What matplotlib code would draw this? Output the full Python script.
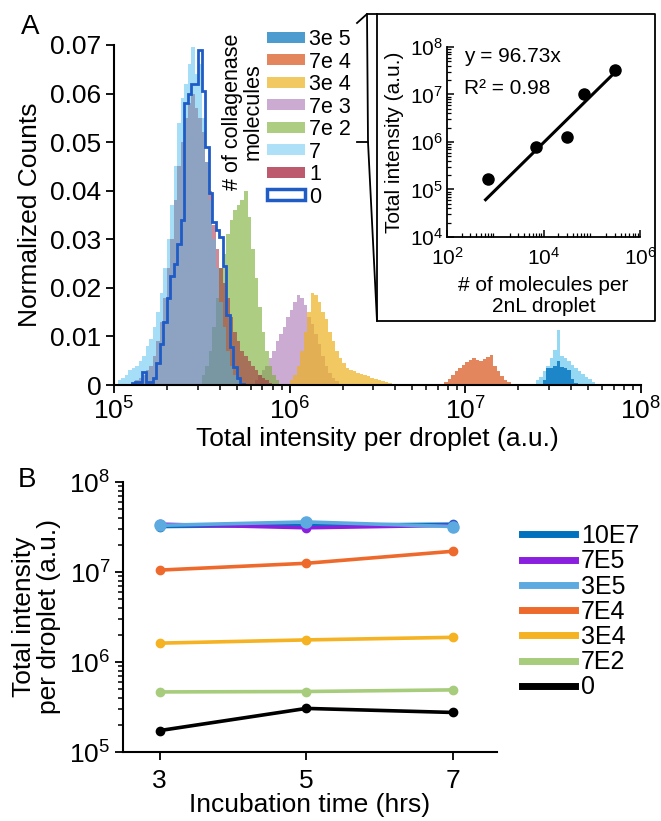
import numpy as np
import matplotlib
matplotlib.use("Agg")
import matplotlib.pyplot as plt
from matplotlib.patches import Patch
from matplotlib.lines import Line2D
from matplotlib.ticker import LogLocator, NullFormatter

plt.rcParams['font.family'] = ['Liberation Sans', 'DejaVu Sans']
plt.rcParams['mathtext.fontset'] = 'custom'
plt.rcParams['mathtext.rm'] = 'Liberation Sans'
plt.rcParams['mathtext.it'] = 'Liberation Sans:italic'
plt.rcParams['mathtext.bf'] = 'Liberation Sans:bold'

############################################################################
# Panel A data: normalized counts, bins 0.02 decades wide (log10 start)
############################################################################
bin_w = 0.02

h3e5_light_start = 7.40
h3e5_light = [0.001, 0.0017, 0.0028, 0.004, 0.0055, 0.0072, 0.0113, 0.006,
              0.0055, 0.005, 0.0042, 0.0035, 0.0028, 0.0022, 0.0017, 0.0012, 0.0007]
h3e5_start = 7.44
h3e5 = [0.001, 0.0034, 0.0036, 0.004, 0.005, 0.0038, 0.0034, 0.003, 0.0012, 0.0005]

h7e4_start = 6.86
h7e4 = [0.0003, 0.0007, 0.0012, 0.002, 0.0028, 0.0036, 0.0042, 0.0047, 0.0051,
        0.0055, 0.0052, 0.005, 0.0053, 0.0057, 0.0062, 0.004, 0.0028, 0.0018,
        0.0011, 0.0006, 0.0002]

h3e4_start = 6.00
h3e4 = [0.001, 0.002, 0.004, 0.007, 0.011, 0.015, 0.019, 0.0185, 0.017, 0.015,
        0.0135, 0.011, 0.009, 0.007, 0.0055, 0.0045, 0.0035, 0.003, 0.0028,
        0.0024, 0.0022, 0.002, 0.0018, 0.0015, 0.0012, 0.001, 0.0008, 0.0006,
        0.0004, 0.0002]

h7e3_start = 5.80
h7e3 = [0.001, 0.002, 0.003, 0.004, 0.0055, 0.007, 0.009, 0.0105, 0.012, 0.014,
        0.0155, 0.017, 0.0185, 0.018, 0.0165, 0.014, 0.0125, 0.0105, 0.0085,
        0.006, 0.004, 0.0025, 0.0015, 0.0008, 0.0003]

h7e2_start = 5.50
h7e2 = [0.002, 0.004, 0.007, 0.012, 0.018, 0.024, 0.027, 0.031, 0.034, 0.036,
        0.037, 0.038, 0.040, 0.0345, 0.028, 0.022, 0.016, 0.011, 0.007, 0.004,
        0.002, 0.001]

h7_start = 5.02
h7 = [0.001, 0.0015, 0.002, 0.003, 0.0035, 0.004, 0.005, 0.006, 0.008, 0.0095,
      0.012, 0.015, 0.019, 0.024, 0.030, 0.037, 0.045, 0.054, 0.059, 0.062,
      0.066, 0.0695, 0.064, 0.066, 0.055, 0.046, 0.038, 0.030, 0.024, 0.017,
      0.012, 0.007, 0.004, 0.002, 0.001]

h1_start = 5.10
h1 = [0.0005, 0.001, 0.0015, 0.002, 0.003, 0.004, 0.006, 0.009, 0.013, 0.018,
      0.024, 0.030, 0.038, 0.045, 0.050, 0.055, 0.058, 0.060, 0.057, 0.055,
      0.052, 0.046, 0.040, 0.033, 0.028, 0.024, 0.021, 0.018, 0.014, 0.011,
      0.009, 0.007, 0.006, 0.005, 0.004, 0.003, 0.002, 0.0015, 0.001, 0.0005]

h0_start = 5.10
h0 = [0.0005, 0.0007, 0.0007, 0.0027, 0.0007, 0.0007, 0.0015, 0.0045, 0.0085,
      0.013, 0.018, 0.0225, 0.025, 0.029, 0.034, 0.058, 0.060, 0.062, 0.062,
      0.069, 0.0605, 0.049, 0.0395, 0.0336, 0.032, 0.0305, 0.0244, 0.0144,
      0.0079, 0.0038, 0.0014, 0.0003, 0.0]

legend_a_labels = ['3e 5', '7e 4', '3e 4', '7e 3', '7e 2', '7', '1', '0']
legend_a_title = '# of collagenase\nmolecules'

# inset: calibration
mol_per_drop = [7e2, 7e3, 3e4, 7e4, 3e5]
total_int = [1.7e5, 8e5, 1.3e6, 1.0e7, 3.3e7]
fit_slope = 96.73
fit_r2 = 0.98
fit_x = [6.3e2, 3.6e5]

############################################################################
# Panel B data
############################################################################
hours = [3, 5, 7]
b_labels = ['10E7', '7E5', '3E5', '7E4', '3E4', '7E2', '0']
b_10e7 = [3.2e7, 3.3e7, 3.4e7]
b_7e5 = [3.4e7, 3.1e7, 3.3e7]
b_3e5 = [3.3e7, 3.6e7, 3.2e7]
b_7e4 = [1.05e7, 1.25e7, 1.7e7]
b_3e4 = [1.62e6, 1.76e6, 1.88e6]
b_7e2 = [4.65e5, 4.7e5, 4.9e5]
b_0 = [1.73e5, 3.05e5, 2.75e5]

W, H = 661, 821
fig = plt.figure(figsize=(W / 100, H / 100), dpi=100)


def fx(x):
    return x / W


def fy(y):
    return 1 - y / H


def edges(start, vals):
    return 10 ** (start + bin_w * np.arange(len(vals) + 1))


############################################################################
# Panel A
############################################################################
ax = fig.add_axes([fx(114), fy(385), fx(641) - fx(114), fy(45) - fy(385)])

c_3e5, c_7e4, c_3e4, c_7e3 = '#0072BD', '#D95319', '#EDB120', '#7E2F8E'
c_7e2, c_7, c_1, c_0 = '#77AC30', '#4DBEEE', '#A2142F', '#1F5CC6'
a_3e5, a_7e4, a_3e4, a_7e3, a_7e2, a_7, a_1 = 0.7, 0.7, 0.7, 0.4, 0.6, 0.45, 0.5

ax.stairs(h3e5_light, edges(h3e5_light_start, h3e5_light), fill=True, color=c_7, alpha=0.6, lw=0)
ax.stairs(h3e5, edges(h3e5_start, h3e5), fill=True, color=c_3e5, alpha=0.8, lw=0)
ax.stairs(h7e4, edges(h7e4_start, h7e4), fill=True, color=c_7e4, alpha=a_7e4, lw=0)
ax.stairs(h7e3, edges(h7e3_start, h7e3), fill=True, color=c_7e3, alpha=a_7e3, lw=0)
ax.stairs(h3e4, edges(h3e4_start, h3e4), fill=True, color=c_3e4, alpha=a_3e4, lw=0)
ax.stairs(h7e2, edges(h7e2_start, h7e2), fill=True, color=c_7e2, alpha=a_7e2, lw=0)
ax.stairs(h1, edges(h1_start, h1), fill=True, color=c_1, alpha=a_1, lw=0)
ax.stairs(h7, edges(h7_start, h7), fill=True, color=c_7, alpha=0.5, lw=0)
ax.stairs(h0, edges(h0_start, h0), fill=False, color=c_0, lw=2.0)

ax.set_xscale('log')
ax.set_xlim(1e5, 1e8)
ax.set_ylim(0, 0.07)
ax.set_yticks(np.arange(0, 0.071, 0.01))
ax.set_yticklabels(['0', '0.01', '0.02', '0.03', '0.04', '0.05', '0.06', '0.07'])
ax.xaxis.set_major_locator(LogLocator(base=10, numticks=10))
ax.xaxis.set_minor_locator(LogLocator(base=10, subs=np.arange(2, 10), numticks=30))
ax.xaxis.set_minor_formatter(NullFormatter())
for s in ['top', 'right']:
    ax.spines[s].set_visible(False)
for s in ['left', 'bottom']:
    ax.spines[s].set_linewidth(1.5)
ax.tick_params(which='major', direction='out', length=6, width=1.3, labelsize=19, pad=3)
ax.tick_params(which='minor', direction='out', length=3.5, width=1.1)
ax.set_ylabel('Normalized Counts', fontsize=19, labelpad=6)
ax.set_xlabel('Total intensity per droplet (a.u.)', fontsize=19, labelpad=2)

handles_a = [Patch(facecolor=c_3e5, alpha=a_3e5, lw=0),
             Patch(facecolor=c_7e4, alpha=a_7e4, lw=0),
             Patch(facecolor=c_3e4, alpha=a_3e4, lw=0),
             Patch(facecolor=c_7e3, alpha=a_7e3, lw=0),
             Patch(facecolor=c_7e2, alpha=a_7e2, lw=0),
             Patch(facecolor=c_7, alpha=a_7, lw=0),
             Patch(facecolor=c_1, alpha=0.7, lw=0),
             Patch(facecolor='white', edgecolor=c_0, lw=2.5)]
leg = ax.legend(handles_a, legend_a_labels, loc='upper left',
                bbox_to_anchor=(fx(267), fy(29)), bbox_transform=fig.transFigure,
                frameon=False, fontsize=15.5, handlelength=1.75, handleheight=0.42,
                handletextpad=0.2, labelspacing=0.07, borderpad=0, borderaxespad=0)
fig.text(fx(243), fy(112), legend_a_title, rotation=90, fontsize=15.5,
         ha='center', va='center', multialignment='center', linespacing=1.0)

fig.text(fx(30), fy(27), 'A', fontsize=20, ha='center', va='center')

# callout bracket + inset frame
lk = dict(color='black', lw=1.3, transform=fig.transFigure)
fig.add_artist(Line2D([fx(357), fx(367), fx(655), fx(655), fx(377), fx(368), fx(357)],
                      [fy(23), fy(14), fy(14), fy(321), fy(321), fy(142), fy(142)], **lk))
fig.add_artist(Line2D([fx(367), fx(368)], [fy(14), fy(142)], **lk))
fig.add_artist(Line2D([fx(377), fx(377)], [fy(14), fy(321)], **lk))

############################################################################
# Inset
############################################################################
ai = fig.add_axes([fx(447), fy(237), fx(640) - fx(447), fy(47) - fy(237)])
ai.set_xscale('log')
ai.set_yscale('log')
ai.plot(fit_x, [fit_slope * v for v in fit_x], color='black', lw=2.2)
ai.plot(mol_per_drop, total_int, 'o', color='black', ms=8)
ai.set_xlim(1e2, 1e6)
ai.set_ylim(1e4, 1e8)
ai.set_xticks([1e2, 1e4, 1e6])
ai.set_yticks([1e4, 1e5, 1e6, 1e7, 1e8])
ai.xaxis.set_minor_locator(LogLocator(base=10, subs=np.arange(2, 10), numticks=30))
ai.yaxis.set_minor_locator(LogLocator(base=10, subs=np.arange(2, 10), numticks=30))
ai.xaxis.set_minor_formatter(NullFormatter())
ai.yaxis.set_minor_formatter(NullFormatter())
for s in ['top', 'right']:
    ai.spines[s].set_visible(False)
for s in ['left', 'bottom']:
    ai.spines[s].set_linewidth(1.3)
ai.tick_params(which='major', direction='in', length=5, width=1.1, labelsize=15, pad=3)
ai.tick_params(which='minor', direction='in', length=3, width=0.9)
ai.tick_params(axis='x', which='major', pad=7)
ai.set_ylabel('Total intensity (a.u.)', fontsize=15, labelpad=4)
ai.set_xlabel('# of molecules per\n2nL droplet', fontsize=15, labelpad=5, linespacing=1.15)
ai.text(0.09, 0.95, 'y = %.2fx' % fit_slope, transform=ai.transAxes, fontsize=15, va='center')
ai.text(0.09, 0.78, 'R\u00b2 = %.2f' % fit_r2, transform=ai.transAxes, fontsize=15, va='center')

############################################################################
# Panel B
############################################################################
ab = fig.add_axes([fx(123), fy(752), fx(497) - fx(123), fy(482) - fy(752)])
series_b = [b_10e7, b_7e5, b_3e5, b_7e4, b_3e4, b_7e2, b_0]
colors_b = ['#0072BD', '#8A1FE0', '#5DAAE0', '#EE6A2C', '#F5B222', '#A6CC7C', '#000000']
ms_b = [6, 6, 8, 6, 6, 6, 6]
for vals, col, lab, m in zip(series_b, colors_b, b_labels, ms_b):
    ab.plot(hours, vals, '-o', color=col, lw=2.6, ms=m, label=lab)
ab.set_yscale('log')
ab.set_ylim(1e5, 1e8)
ab.set_xlim(2.5, 7.6)
ab.set_xticks(hours)
ab.set_yticks([1e5, 1e6, 1e7, 1e8])
ab.yaxis.set_minor_locator(LogLocator(base=10, subs=np.arange(2, 10), numticks=30))
ab.yaxis.set_minor_formatter(NullFormatter())
for s in ['top', 'right']:
    ab.spines[s].set_visible(False)
for s in ['left', 'bottom']:
    ab.spines[s].set_linewidth(1.5)
ab.tick_params(which='major', direction='out', length=6, width=1.3, labelsize=19, pad=3)
ab.tick_params(which='minor', direction='out', length=3.5, width=1.1)
ab.tick_params(axis='x', which='major', pad=6)
ab.set_ylabel('Total intensity\nper droplet (a.u.)', fontsize=19, labelpad=6, linespacing=1.05)
ab.set_xlabel('Incubation time (hrs)', fontsize=19, labelpad=0)
legb = ab.legend(loc='upper left', bbox_to_anchor=(fx(522), fy(524)),
                 bbox_transform=fig.transFigure, frameon=False, fontsize=18,
                 handlelength=2.1, handletextpad=0.25, labelspacing=0.05,
                 borderpad=0, borderaxespad=0)
for ln in legb.get_lines():
    ln.set_linewidth(5)
    ln.set_marker('')
fig.text(fx(27), fy(480), 'B', fontsize=20, ha='center', va='center')

fig.savefig('out.png', dpi=100)
